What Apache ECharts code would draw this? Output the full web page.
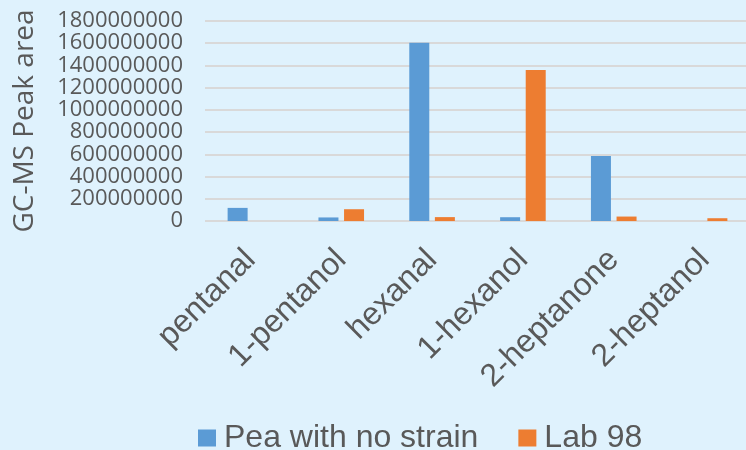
<!DOCTYPE html>
<html>
<head>
<meta charset="utf-8">
<script src="https://cdn.jsdelivr.net/npm/echarts@6/dist/echarts.min.js"></script>
<style>
  html, body { margin: 0; padding: 0; background: #dff2fd; }
  #chart { width: 746px; height: 450px; }
</style>
</head>
<body>
<div id="chart"></div>
<script>
// Volatile compounds measured by GC-MS
const compounds = ['pentanal', '1-pentanol', 'hexanal', '1-hexanol', '2-heptanone', '2-heptanol'];
const seriesNames = ['Pea with no strain', 'Lab 98'];
const peaNoStrain = [118000000, 32000000, 1605000000, 34000000, 585000000, 0];
const lab98 = [0, 106000000, 35000000, 1360000000, 40000000, 25000000];
const yTicks = [0, 200000000, 400000000, 600000000, 800000000, 1000000000,
                1200000000, 1400000000, 1600000000, 1800000000];

const chart = echarts.init(document.getElementById('chart'));
chart.setOption({
  backgroundColor: '#dff2fd',
  animation: false,
  grid: {
    left: 205, top: 21, width: 545, height: 200,
    containLabel: false,
    outerBoundsMode: 'none'
  },
  legend: {
    bottom: -9,
    left: 193,
    itemWidth: 18,
    itemHeight: 17,
    itemGap: 40,
    icon: 'rect',
    textStyle: {
      fontFamily: 'Liberation Sans, Arial',
      fontSize: 32,
      color: '#595959',
      padding: [0, 0, 0, 3]
    },
    data: seriesNames
  },
  xAxis: {
    type: 'category',
    data: compounds,
    axisLine: { show: false },
    axisTick: { show: false },
    axisLabel: {
      rotate: 45,
      interval: 0,
      margin: 34,
      fontFamily: 'Liberation Sans, Arial',
      fontSize: 32,
      color: '#595959'
    }
  },
  yAxis: {
    type: 'value',
    min: yTicks[0],
    max: yTicks[yTicks.length - 1],
    interval: yTicks[1] - yTicks[0],
    name: 'GC-MS Peak area',
    nameLocation: 'middle',
    nameGap: 166,
    nameTextStyle: { fontFamily: 'Open Sans', fontSize: 28, color: '#595959' },
    axisLine: { show: false },
    axisTick: { show: false },
    axisLabel: {
      margin: 22,
      fontFamily: 'Open Sans',
      fontSize: 22,
      color: '#595959',
      formatter: v => String(v)
    },
    splitLine: { lineStyle: { color: '#d9d9d9', width: 2 } }
  },
  series: [
    {
      name: seriesNames[0],
      type: 'bar',
      data: peaNoStrain,
      barWidth: 20,
      barGap: '28%',
      itemStyle: { color: '#5b9bd5' }
    },
    {
      name: seriesNames[1],
      type: 'bar',
      data: lab98,
      barWidth: 20,
      barGap: '28%',
      itemStyle: { color: '#ed7d31' }
    }
  ]
});
</script>
</body>
</html>
